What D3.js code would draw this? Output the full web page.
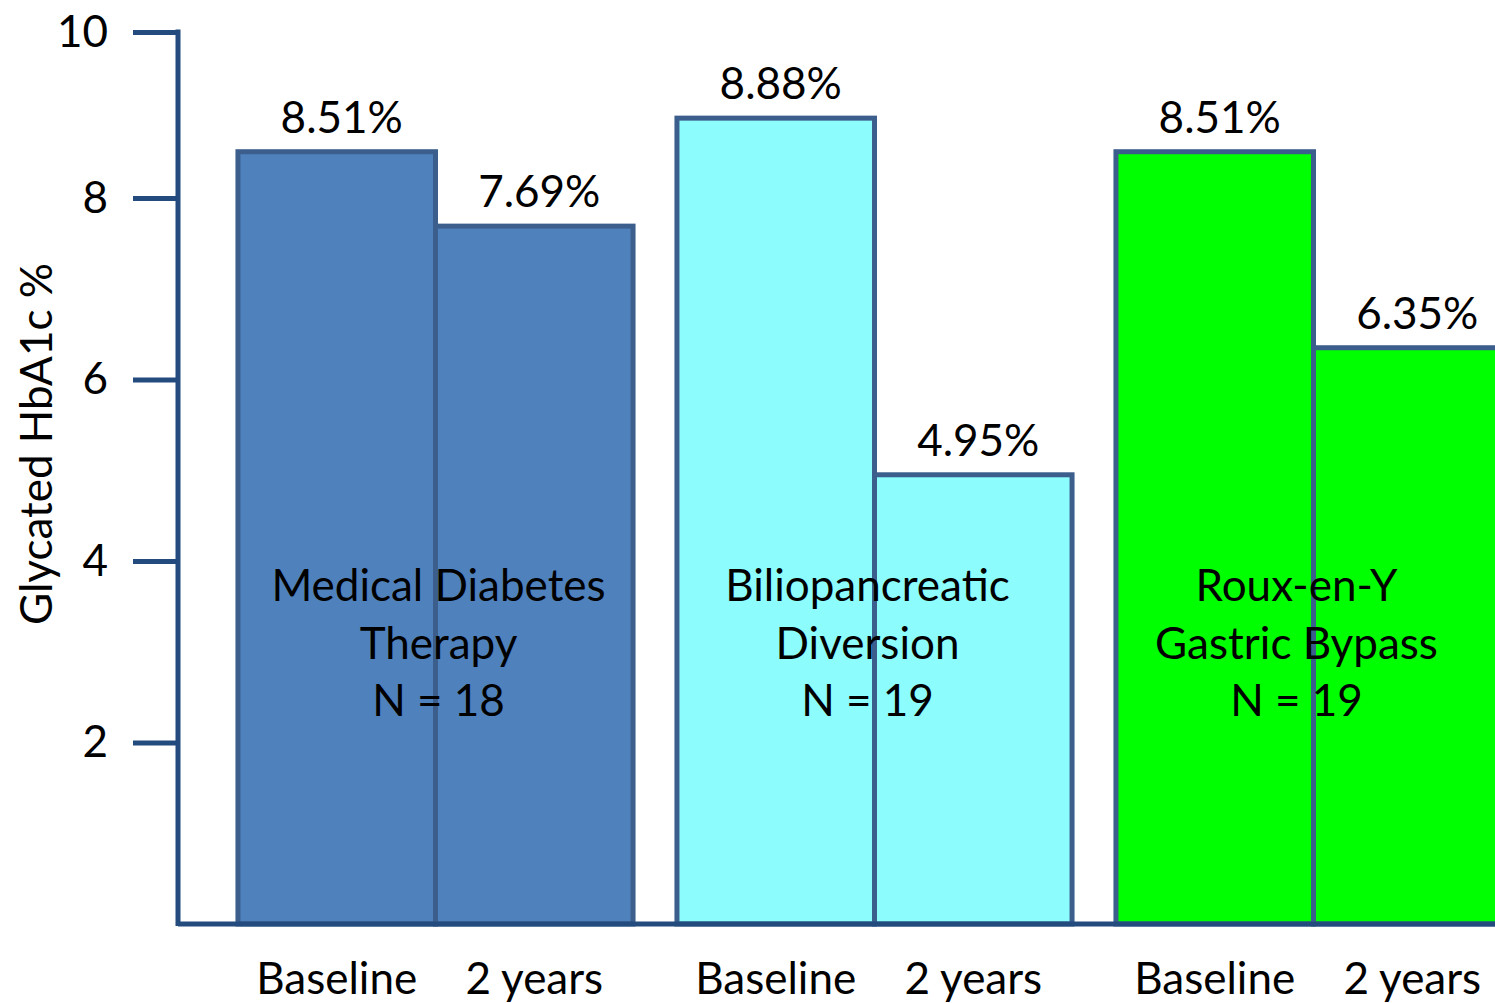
<!DOCTYPE html>
<html>
<head>
<meta charset="utf-8">
<script src="https://cdn.jsdelivr.net/npm/d3@7"></script>
<style>
  html, body { margin: 0; padding: 0; background: #fff; }
  svg { display: block; }
  text { font-family: Lato, "Open Sans", sans-serif; fill: #000; }
</style>
</head>
<body>
<svg id="chart" width="1495" height="1003"></svg>
<script>
// Treatment groups and their labels
const groups = ["Medical Diabetes Therapy", "Biliopancreatic Diversion", "Roux-en-Y Gastric Bypass"];
const groupLines = [
  ["Medical Diabetes", "Therapy", "N = 18"],
  ["Biliopancreatic", "Diversion", "N = 19"],
  ["Roux-en-Y", "Gastric Bypass", "N = 19"]
];
const timepoints = ["Baseline", "2 years"];
// Glycated HbA1c (%) per group
const baselineValues = [8.51, 8.88, 8.51];
const twoYearValues = [7.69, 4.95, 6.35];
const yTicks = [2, 4, 6, 8, 10];
const yTitle = "Glycated HbA1c %";

const fills = ["#4F81BD", "#8CFCFD", "#00FF00"];
const barStroke = "#3B5E8C";
const axisColor = "#234B7E";

const svg = d3.select("#chart");

const x0 = 178, yBase = 924;

// y: value axis, compressed slightly above 9 so the top tick sits at the axis end
const y = d3.scaleLinear().domain([0, 9, 10]).range([yBase, 107.25, 32]);

// outer band per group, inner band per timepoint
const xGroup = d3.scaleBand().domain(groups).range([216, 216 + 1317])
  .paddingInner(0.1).paddingOuter(0.05);
const xTime = d3.scaleBand().domain(timepoints).range([0, xGroup.bandwidth()]);

const data = groups.flatMap((g, i) => [
  { group: g, gi: i, time: timepoints[0], value: baselineValues[i] },
  { group: g, gi: i, time: timepoints[1], value: twoYearValues[i] }
]);

const fs = 44;

// bars
const bars = svg.append("g");
bars.selectAll("rect").data(data).join("rect")
  .attr("x", d => xGroup(d.group) + xTime(d.time))
  .attr("y", d => y(d.value))
  .attr("width", xTime.bandwidth())
  .attr("height", d => y(0) - y(d.value))
  .attr("fill", d => fills[d.gi])
  .attr("stroke", barStroke)
  .attr("stroke-width", 5);

// value labels
svg.append("g").selectAll("text").data(data).join("text")
  .attr("x", d => xGroup(d.group) + xTime(d.time) + xTime.bandwidth() / 2 + 5)
  .attr("y", d => y(d.value) - 19)
  .attr("text-anchor", "middle")
  .attr("font-size", fs)
  .text(d => d.value.toFixed(2) + "%");

// group labels inside the bars
groupLines.forEach((lines, i) => {
  const cx = xGroup(groups[i]) + xGroup.bandwidth() / 2 + 3 - i * 10;
  svg.append("text")
    .attr("text-anchor", "middle")
    .attr("font-size", fs)
    .selectAll("tspan").data(lines).join("tspan")
      .attr("x", cx)
      .attr("y", (d, j) => 601 + j * 57.5)
      .text(d => d);
});

// y axis
const yAxis = d3.axisLeft(y).tickValues(yTicks).tickSize(45).tickPadding(25)
  .tickFormat(d3.format("d"));
const gy = svg.append("g").attr("transform", `translate(${x0},0)`).call(yAxis);
gy.select(".domain").remove();
gy.selectAll(".tick line").attr("stroke", axisColor).attr("stroke-width", 5);
gy.selectAll(".tick text").attr("font-size", fs).attr("font-family", "Lato, 'Open Sans', sans-serif").attr("fill", "#000");
gy.append("line").attr("x1", 0).attr("x2", 0).attr("y1", y(10) - 2.5).attr("y2", yBase + 2)
  .attr("stroke", axisColor).attr("stroke-width", 5);

// x axis baseline
svg.append("line").attr("x1", x0).attr("x2", 1495).attr("y1", yBase).attr("y2", yBase)
  .attr("stroke", axisColor).attr("stroke-width", 5);

// category labels under the bars
svg.append("g").selectAll("text").data(data).join("text")
  .attr("x", d => xGroup(d.group) + xTime(d.time) + xTime.bandwidth() / 2)
  .attr("y", 994)
  .attr("text-anchor", "middle")
  .attr("font-size", fs)
  .text(d => d.time);

// y title
svg.append("text")
  .attr("transform", `translate(52,${444}) rotate(-90)`)
  .attr("text-anchor", "middle")
  .attr("font-size", fs)
  .text(yTitle);
</script>
</body>
</html>
